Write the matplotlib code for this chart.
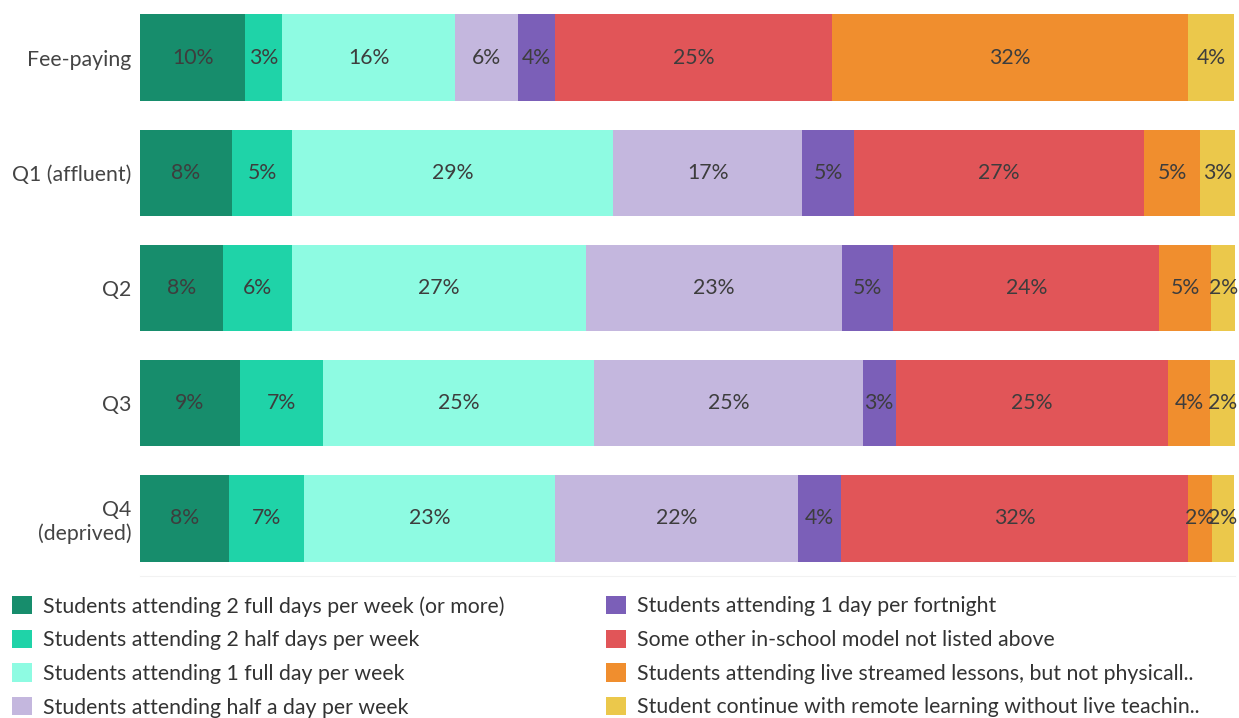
import matplotlib
matplotlib.use('Agg')
import matplotlib.pyplot as plt
from matplotlib.patches import Patch

plt.rcParams.update({
    'font.family': ['Lato', 'DejaVu Sans'],
    'font.size': 15.3,
})

groups = ['Fee-paying', 'Q1 (affluent)', 'Q2', 'Q3', 'Q4\n(deprived)']

series_names = [
    'Students attending 2 full days per week (or more)',
    'Students attending 2 half days per week',
    'Students attending 1 full day per week',
    'Students attending half a day per week',
    'Students attending 1 day per fortnight',
    'Some other in-school model not listed above',
    'Students attending live streamed lessons, but not physicall..',
    'Student continue with remote learning without live teachin..',
]
colors = ['#178d6c', '#1fd3a8', '#8efbe2', '#c4b7de',
          '#7b5fb8', '#e15558', '#f08e2e', '#ebc84b']

# shares per group (Fee-paying, Q1, Q2, Q3, Q4)
full2 = [9.6, 8.4, 7.6, 9.1, 8.1]
half2 = [3.4, 5.5, 6.3, 7.6, 6.9]
full1 = [15.8, 29.3, 26.8, 24.8, 22.9]
half1 = [5.7, 17.3, 23.4, 24.5, 22.2]
fortnight = [3.4, 4.7, 4.7, 3.0, 3.9]
other = [25.3, 26.5, 24.3, 24.9, 31.7]
streamed = [32.5, 5.1, 4.7, 3.8, 2.2]
remote = [4.2, 3.3, 2.3, 2.3, 2.0]

# percentages printed on the segments
full2_lbl = [10, 8, 8, 9, 8]
half2_lbl = [3, 5, 6, 7, 7]
full1_lbl = [16, 29, 27, 25, 23]
half1_lbl = [6, 17, 23, 25, 22]
fortnight_lbl = [4, 5, 5, 3, 4]
other_lbl = [25, 27, 24, 25, 32]
streamed_lbl = [32, 5, 5, 4, 2]
remote_lbl = [4, 3, 2, 2, 2]

series = [full2, half2, full1, half1, fortnight, other, streamed, remote]
labels = [full2_lbl, half2_lbl, full1_lbl, half1_lbl,
          fortnight_lbl, other_lbl, streamed_lbl, remote_lbl]

fig = plt.figure(figsize=(12.39, 7.18), dpi=100)
ax = fig.add_axes([140 / 1239, 1 - 576 / 718, 1095 / 1239, 576 / 718])

ypos = list(range(len(groups)))
left = [0.0] * len(groups)
for vals, lbls, col in zip(series, labels, colors):
    ax.barh(ypos, vals, left=left, height=0.75, color=col, edgecolor='none')
    for y, v, l0, lab in zip(ypos, vals, left, lbls):
        ax.text(l0 + v / 2, y, f'{lab}%', ha='center', va='center',
                fontsize=15.3, color='#3d3d3d')
    left = [a + b for a, b in zip(left, vals)]

ax.set_xlim(0, 100)
ax.set_ylim(4.5, -0.5)
ax.set_yticks(ypos)
ax.set_yticklabels(groups, color='#444444', fontsize=15.3, multialignment='right')
ax.tick_params(axis='y', length=0, pad=6)
ax.set_xticks([])
for s in ['top', 'left', 'right']:
    ax.spines[s].set_visible(False)
ax.spines['bottom'].set_color('#f2f2f2')

handles = [Patch(facecolor=c, edgecolor='none', label=n)
           for c, n in zip(colors, series_names)]
common = dict(frameon=False, fontsize=15.3, handlelength=0.95, handleheight=0.95,
              handletextpad=0.5, labelspacing=0.62, borderpad=0, borderaxespad=0,
              labelcolor='#333333')
fig.legend(handles=handles[:4], loc='upper left',
           bbox_to_anchor=(12 / 1239, 1 - 596 / 718), **common)
fig.legend(handles=handles[4:], loc='upper left',
           bbox_to_anchor=(606 / 1239, 1 - 596 / 718), **common)

fig.savefig('out.png', dpi=100)
